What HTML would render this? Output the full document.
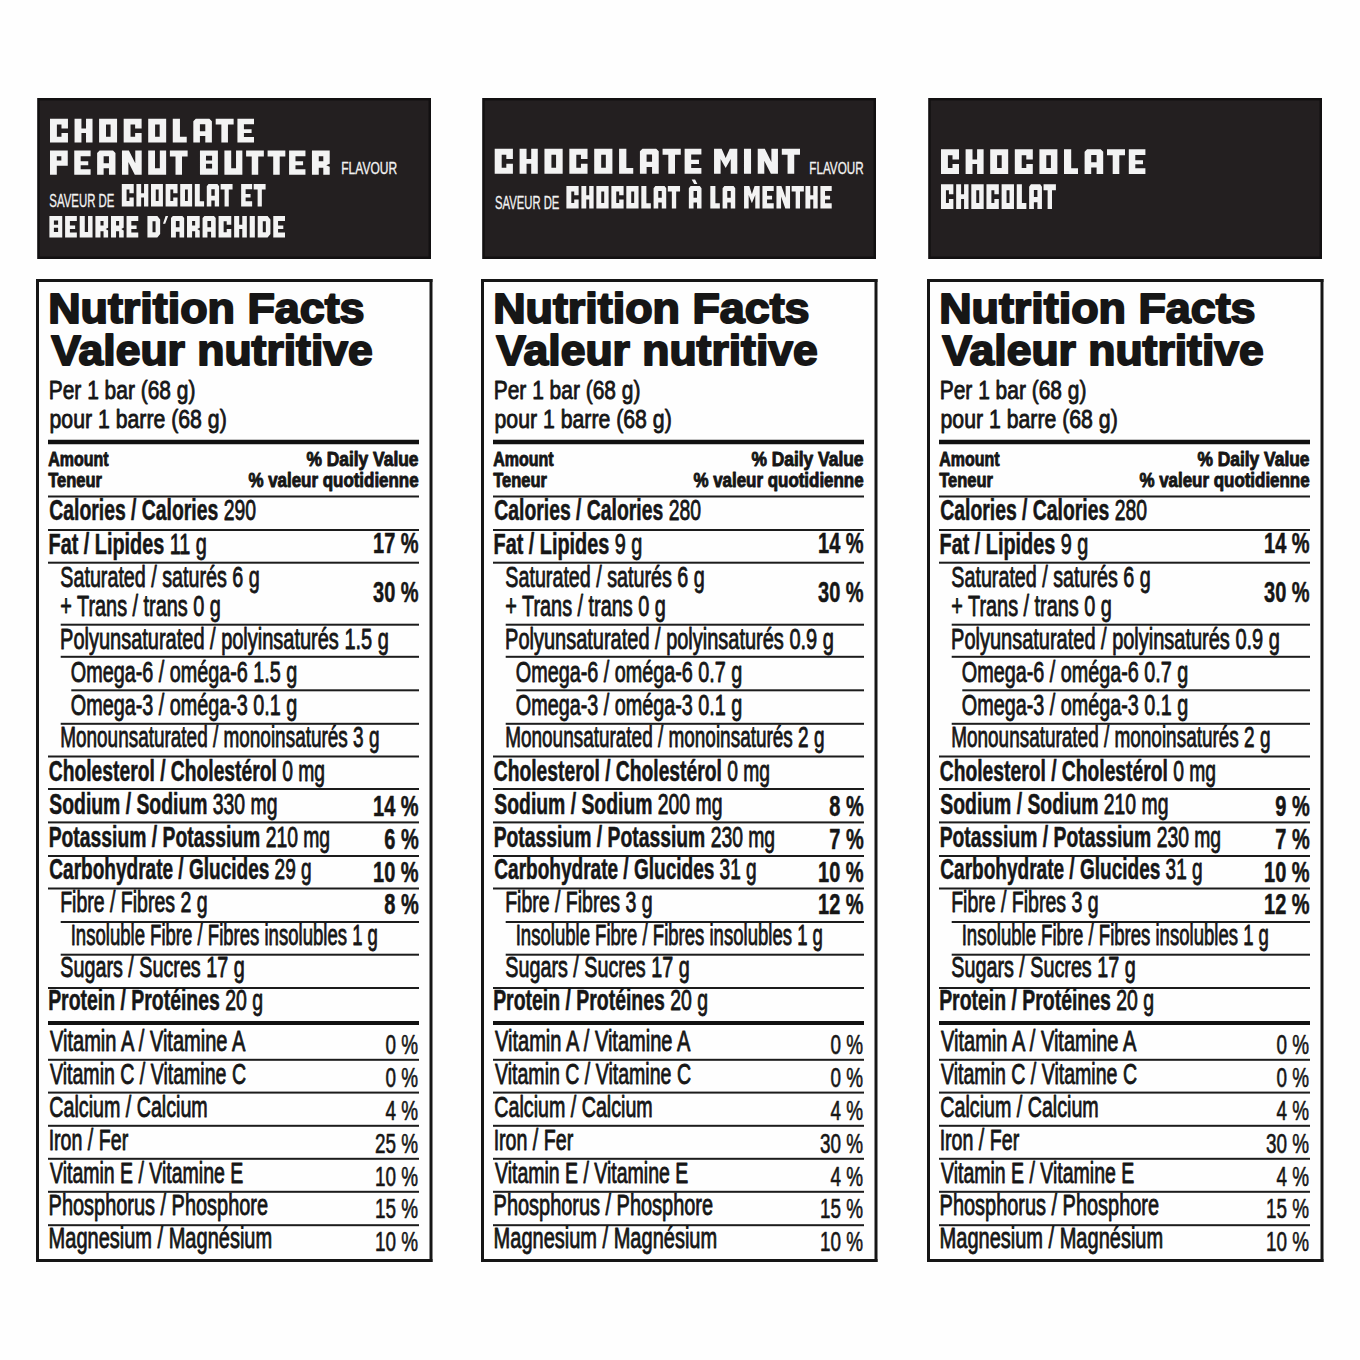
<!DOCTYPE html>
<html><head><meta charset="utf-8"><style>
html,body{margin:0;padding:0;background:#fff;}
svg{display:block;font-family:"Liberation Sans", sans-serif;}
</style></head><body>
<svg width="1360" height="1360" viewBox="0 0 1360 1360">
<rect width="1360" height="1360" fill="#fefefe"/>
<rect x="37.20" y="98.00" width="393.80" height="161.00" fill="#121011"/>
<rect x="39.70" y="100.50" width="388.80" height="156.00" fill="#231f20"/>
<path d="M50.00 118.80 L67.96 118.80 L67.96 128.45 L61.48 128.45 L61.48 124.53 L56.89 124.53 L56.89 136.67 L61.48 136.67 L61.48 132.94 L67.96 132.94 L67.96 142.40 L50.00 142.40Z M74.55 118.80 L81.44 118.80 L81.44 128.45 L86.03 128.45 L86.03 118.80 L92.52 118.80 L92.52 142.40 L86.03 142.40 L86.03 132.94 L81.44 132.94 L81.44 142.40 L74.55 142.40Z M99.10 118.80 L117.07 118.80 L117.07 142.40 L99.10 142.40Z M105.99 124.53 L110.58 124.53 L110.58 136.67 L105.99 136.67Z M123.66 118.80 L141.62 118.80 L141.62 128.45 L135.13 128.45 L135.13 124.53 L130.54 124.53 L130.54 136.67 L135.13 136.67 L135.13 132.94 L141.62 132.94 L141.62 142.40 L123.66 142.40Z M148.21 118.80 L166.17 118.80 L166.17 142.40 L148.21 142.40Z M155.09 124.53 L159.68 124.53 L159.68 136.67 L155.09 136.67Z M172.76 118.80 L179.95 118.80 L179.95 136.86 L186.73 136.86 L186.73 142.40 L172.76 142.40Z M193.32 121.19 L195.81 118.80 L209.39 118.80 L211.88 121.19 L211.88 142.40 L205.30 142.40 L205.30 136.09 L199.91 136.09 L199.91 142.40 L193.32 142.40Z M199.91 124.25 L205.30 124.25 L205.30 131.13 L199.91 131.13Z M215.68 118.80 L233.64 118.80 L233.64 124.53 L227.95 124.53 L227.95 142.40 L221.36 142.40 L221.36 124.53 L215.68 124.53Z M237.43 118.80 L254.00 118.80 L254.00 124.25 L243.92 124.25 L243.92 129.21 L251.60 129.21 L251.60 133.04 L243.92 133.04 L243.92 136.95 L254.00 136.95 L254.00 142.40 L237.43 142.40Z" fill="#f3f3f3" fill-rule="evenodd"/>
<path d="M50.00 150.60 L67.75 150.60 L67.75 165.72 L56.80 165.72 L56.80 174.70 L50.00 174.70Z M56.80 156.16 L61.34 156.16 L61.34 160.55 L56.80 160.55Z M74.25 150.60 L90.62 150.60 L90.62 156.16 L80.66 156.16 L80.66 161.24 L88.25 161.24 L88.25 165.14 L80.66 165.14 L80.66 169.14 L90.62 169.14 L90.62 174.70 L74.25 174.70Z M97.13 153.04 L99.59 150.60 L113.00 150.60 L115.46 153.04 L115.46 174.70 L108.96 174.70 L108.96 168.26 L103.63 168.26 L103.63 174.70 L97.13 174.70Z M103.63 156.16 L108.96 156.16 L108.96 163.19 L103.63 163.19Z M121.97 150.60 L128.87 150.60 L135.28 163.28 L135.28 150.60 L141.69 150.60 L141.69 174.70 L134.79 174.70 L128.38 162.02 L128.38 174.70 L121.97 174.70Z M148.20 150.60 L155.00 150.60 L155.00 168.36 L159.83 168.36 L159.83 150.60 L166.14 150.60 L166.14 174.70 L148.20 174.70Z M169.89 150.60 L187.63 150.60 L187.63 156.45 L182.01 156.45 L182.01 174.70 L175.51 174.70 L175.51 156.45 L169.89 156.45Z M199.96 150.60 L217.90 150.60 L217.90 174.70 L199.96 174.70Z M205.97 155.77 L212.08 155.77 L212.08 160.45 L205.97 160.45Z M205.97 163.87 L212.08 163.87 L212.08 168.55 L205.97 168.55Z M224.41 150.60 L231.21 150.60 L231.21 168.36 L236.04 168.36 L236.04 150.60 L242.35 150.60 L242.35 174.70 L224.41 174.70Z M246.10 150.60 L263.84 150.60 L263.84 156.45 L258.22 156.45 L258.22 174.70 L251.72 174.70 L251.72 156.45 L246.10 156.45Z M267.59 150.60 L285.33 150.60 L285.33 156.45 L279.71 156.45 L279.71 174.70 L273.21 174.70 L273.21 156.45 L267.59 156.45Z M289.08 150.60 L305.45 150.60 L305.45 156.16 L295.49 156.16 L295.49 161.24 L303.08 161.24 L303.08 165.14 L295.49 165.14 L295.49 169.14 L305.45 169.14 L305.45 174.70 L289.08 174.70Z M311.95 150.60 L329.70 150.60 L329.70 163.77 L326.25 165.24 L329.70 166.70 L329.70 174.70 L323.29 174.70 L323.29 167.67 L318.76 167.67 L318.76 174.70 L311.95 174.70Z M318.76 156.16 L323.29 156.16 L323.29 161.33 L318.76 161.33Z" fill="#f3f3f3" fill-rule="evenodd"/>
<path d="M121.80 184.00 L133.73 184.00 L133.73 193.20 L129.43 193.20 L129.43 189.47 L126.57 189.47 L126.57 201.03 L129.43 201.03 L129.43 197.48 L133.73 197.48 L133.73 206.50 L121.80 206.50Z M136.40 184.00 L141.17 184.00 L141.17 193.20 L144.04 193.20 L144.04 184.00 L148.33 184.00 L148.33 206.50 L144.04 206.50 L144.04 197.48 L141.17 197.48 L141.17 206.50 L136.40 206.50Z M151.00 184.00 L162.93 184.00 L162.93 206.50 L151.00 206.50Z M155.78 189.47 L158.64 189.47 L158.64 201.03 L155.78 201.03Z M165.61 184.00 L177.53 184.00 L177.53 193.20 L173.24 193.20 L173.24 189.47 L170.38 189.47 L170.38 201.03 L173.24 201.03 L173.24 197.48 L177.53 197.48 L177.53 206.50 L165.61 206.50Z M180.21 184.00 L192.14 184.00 L192.14 206.50 L180.21 206.50Z M184.98 189.47 L187.84 189.47 L187.84 201.03 L184.98 201.03Z M194.81 184.00 L199.77 184.00 L199.77 201.22 L204.10 201.22 L204.10 206.50 L194.81 206.50Z M206.77 186.28 L208.50 184.00 L217.44 184.00 L219.09 186.28 L219.09 206.50 L214.73 206.50 L214.73 200.49 L211.33 200.49 L211.33 206.50 L206.77 206.50Z M211.33 189.19 L214.73 189.19 L214.73 195.75 L211.33 195.75Z M220.62 184.00 L232.55 184.00 L232.55 189.47 L228.78 189.47 L228.78 206.50 L224.56 206.50 L224.56 189.47 L220.62 189.47Z M241.14 184.00 L252.14 184.00 L252.14 189.19 L245.63 189.19 L245.63 193.93 L250.56 193.93 L250.56 197.57 L245.63 197.57 L245.63 201.31 L252.14 201.31 L252.14 206.50 L241.14 206.50Z M253.67 184.00 L265.60 184.00 L265.60 189.47 L261.83 189.47 L261.83 206.50 L257.61 206.50 L257.61 189.47 L253.67 189.47Z" fill="#f3f3f3" fill-rule="evenodd"/>
<path d="M49.40 215.90 L62.26 215.90 L62.26 237.60 L49.40 237.60Z M53.90 220.56 L58.10 220.56 L58.10 224.77 L53.90 224.77Z M53.90 227.85 L58.10 227.85 L58.10 232.07 L53.90 232.07Z M65.11 215.90 L76.84 215.90 L76.84 220.91 L69.90 220.91 L69.90 225.48 L75.15 225.48 L75.15 228.99 L69.90 228.99 L69.90 232.59 L76.84 232.59 L76.84 237.60 L65.11 237.60Z M79.69 215.90 L84.78 215.90 L84.78 231.89 L88.04 231.89 L88.04 215.90 L92.55 215.90 L92.55 237.60 L79.69 237.60Z M95.40 215.90 L108.12 215.90 L108.12 227.76 L105.66 229.08 L108.12 230.40 L108.12 237.60 L103.54 237.60 L103.54 231.27 L100.49 231.27 L100.49 237.60 L95.40 237.60Z M100.49 220.91 L103.54 220.91 L103.54 225.56 L100.49 225.56Z M110.97 215.90 L123.69 215.90 L123.69 227.76 L121.23 229.08 L123.69 230.40 L123.69 237.60 L119.11 237.60 L119.11 231.27 L116.06 231.27 L116.06 237.60 L110.97 237.60Z M116.06 220.91 L119.11 220.91 L119.11 225.56 L116.06 225.56Z M126.54 215.90 L138.27 215.90 L138.27 220.91 L131.33 220.91 L131.33 225.48 L136.58 225.48 L136.58 228.99 L131.33 228.99 L131.33 232.59 L138.27 232.59 L138.27 237.60 L126.54 237.60Z M147.43 215.90 L157.33 215.90 L160.15 219.41 L160.15 234.09 L157.33 237.60 L147.43 237.60Z M152.52 221.17 L155.57 221.17 L155.57 232.33 L152.52 232.33Z M165.58 215.90 L168.15 215.90 L165.21 223.81 L163.00 223.81Z M171.00 218.10 L172.85 215.90 L182.39 215.90 L184.15 218.10 L184.15 237.60 L179.50 237.60 L179.50 231.80 L175.87 231.80 L175.87 237.60 L171.00 237.60Z M175.87 220.91 L179.50 220.91 L179.50 227.23 L175.87 227.23Z M187.00 215.90 L199.72 215.90 L199.72 227.76 L197.25 229.08 L199.72 230.40 L199.72 237.60 L195.14 237.60 L195.14 231.27 L192.08 231.27 L192.08 237.60 L187.00 237.60Z M192.08 220.91 L195.14 220.91 L195.14 225.56 L192.08 225.56Z M202.56 218.10 L204.41 215.90 L213.95 215.90 L215.71 218.10 L215.71 237.60 L211.06 237.60 L211.06 231.80 L207.43 231.80 L207.43 237.60 L202.56 237.60Z M207.43 220.91 L211.06 220.91 L211.06 227.23 L207.43 227.23Z M218.56 215.90 L231.28 215.90 L231.28 224.77 L226.70 224.77 L226.70 221.17 L223.64 221.17 L223.64 232.33 L226.70 232.33 L226.70 228.90 L231.28 228.90 L231.28 237.60 L218.56 237.60Z M234.13 215.90 L239.21 215.90 L239.21 224.77 L242.27 224.77 L242.27 215.90 L246.84 215.90 L246.84 237.60 L242.27 237.60 L242.27 228.90 L239.21 228.90 L239.21 237.60 L234.13 237.60Z M249.69 215.90 L254.85 215.90 L254.85 237.60 L249.69 237.60Z M257.70 215.90 L267.60 215.90 L270.42 219.41 L270.42 234.09 L267.60 237.60 L257.70 237.60Z M262.79 221.17 L265.84 221.17 L265.84 232.33 L262.79 232.33Z M273.27 215.90 L285.00 215.90 L285.00 220.91 L278.06 220.91 L278.06 225.48 L283.31 225.48 L283.31 228.99 L278.06 228.99 L278.06 232.59 L285.00 232.59 L285.00 237.60 L273.27 237.60Z" fill="#f3f3f3" fill-rule="evenodd"/>
<rect x="36.00" y="279.00" width="396.50" height="3.00" fill="#161616"/>
<rect x="36.00" y="1259.00" width="396.50" height="3.00" fill="#161616"/>
<rect x="36.00" y="279.00" width="3.00" height="983.00" fill="#161616"/>
<rect x="429.50" y="279.00" width="3.00" height="983.00" fill="#161616"/>
<rect x="48.00" y="439.75" width="371.00" height="4.50" fill="#111"/>
<rect x="48.00" y="495.50" width="371.00" height="2.00" fill="#1c1c1c"/>
<rect x="48.00" y="529.00" width="371.00" height="2.00" fill="#1c1c1c"/>
<rect x="48.00" y="561.70" width="371.00" height="2.00" fill="#1c1c1c"/>
<rect x="60.70" y="623.70" width="358.30" height="2.00" fill="#1c1c1c"/>
<rect x="60.70" y="655.80" width="358.30" height="2.00" fill="#1c1c1c"/>
<rect x="71.30" y="689.30" width="347.70" height="2.00" fill="#1c1c1c"/>
<rect x="60.70" y="722.80" width="358.30" height="2.00" fill="#1c1c1c"/>
<rect x="48.00" y="755.50" width="371.00" height="2.00" fill="#1c1c1c"/>
<rect x="48.00" y="788.00" width="371.00" height="2.00" fill="#1c1c1c"/>
<rect x="48.00" y="821.40" width="371.00" height="2.00" fill="#1c1c1c"/>
<rect x="48.00" y="855.00" width="371.00" height="2.00" fill="#1c1c1c"/>
<rect x="48.00" y="887.50" width="371.00" height="2.00" fill="#1c1c1c"/>
<rect x="60.70" y="921.00" width="358.30" height="2.00" fill="#1c1c1c"/>
<rect x="60.70" y="953.70" width="358.30" height="2.00" fill="#1c1c1c"/>
<rect x="48.00" y="987.00" width="371.00" height="2.00" fill="#1c1c1c"/>
<rect x="48.00" y="1021.00" width="371.00" height="4.00" fill="#111"/>
<rect x="48.00" y="1058.80" width="371.00" height="2.00" fill="#1c1c1c"/>
<rect x="48.00" y="1091.60" width="371.00" height="2.00" fill="#1c1c1c"/>
<rect x="48.00" y="1124.80" width="371.00" height="2.00" fill="#1c1c1c"/>
<rect x="48.00" y="1157.80" width="371.00" height="2.00" fill="#1c1c1c"/>
<rect x="48.00" y="1190.80" width="371.00" height="2.00" fill="#1c1c1c"/>
<rect x="48.00" y="1224.20" width="371.00" height="2.00" fill="#1c1c1c"/>
<rect x="482.20" y="98.00" width="393.80" height="161.00" fill="#121011"/>
<rect x="484.70" y="100.50" width="388.80" height="156.00" fill="#231f20"/>
<path d="M494.70 148.80 L512.90 148.80 L512.90 159.02 L506.33 159.02 L506.33 154.87 L501.68 154.87 L501.68 167.73 L506.33 167.73 L506.33 163.78 L512.90 163.78 L512.90 173.80 L494.70 173.80Z M519.58 148.80 L526.55 148.80 L526.55 159.02 L531.21 159.02 L531.21 148.80 L537.78 148.80 L537.78 173.80 L531.21 173.80 L531.21 163.78 L526.55 163.78 L526.55 173.80 L519.58 173.80Z M544.45 148.80 L562.66 148.80 L562.66 173.80 L544.45 173.80Z M551.43 154.87 L556.08 154.87 L556.08 167.73 L551.43 167.73Z M569.33 148.80 L587.53 148.80 L587.53 159.02 L580.96 159.02 L580.96 154.87 L576.31 154.87 L576.31 167.73 L580.96 167.73 L580.96 163.78 L587.53 163.78 L587.53 173.80 L569.33 173.80Z M594.21 148.80 L612.41 148.80 L612.41 173.80 L594.21 173.80Z M601.19 154.87 L605.84 154.87 L605.84 167.73 L601.19 167.73Z M619.09 148.80 L626.37 148.80 L626.37 167.93 L633.24 167.93 L633.24 173.80 L619.09 173.80Z M639.92 151.33 L642.45 148.80 L656.20 148.80 L658.73 151.33 L658.73 173.80 L652.05 173.80 L652.05 167.12 L646.59 167.12 L646.59 173.80 L639.92 173.80Z M646.59 154.57 L652.05 154.57 L652.05 161.86 L646.59 161.86Z M662.57 148.80 L680.77 148.80 L680.77 154.87 L675.01 154.87 L675.01 173.80 L668.33 173.80 L668.33 154.87 L662.57 154.87Z M684.62 148.80 L701.40 148.80 L701.40 154.57 L691.19 154.57 L691.19 159.83 L698.97 159.83 L698.97 163.88 L691.19 163.88 L691.19 168.03 L701.40 168.03 L701.40 173.80 L684.62 173.80Z M714.04 148.80 L721.63 148.80 L725.67 157.91 L729.72 148.80 L737.30 148.80 L737.30 173.80 L730.73 173.80 L730.73 158.92 L725.67 168.03 L720.62 158.92 L720.62 173.80 L714.04 173.80Z M743.98 148.80 L751.05 148.80 L751.05 173.80 L743.98 173.80Z M757.73 148.80 L764.81 148.80 L771.38 161.96 L771.38 148.80 L777.95 148.80 L777.95 173.80 L770.88 173.80 L764.30 160.64 L764.30 173.80 L757.73 173.80Z M781.80 148.80 L800.00 148.80 L800.00 154.87 L794.24 154.87 L794.24 173.80 L787.56 173.80 L787.56 154.87 L781.80 154.87Z" fill="#f3f3f3" fill-rule="evenodd"/>
<path d="M566.40 185.90 L578.64 185.90 L578.64 195.14 L574.23 195.14 L574.23 191.39 L571.30 191.39 L571.30 203.01 L574.23 203.01 L574.23 199.44 L578.64 199.44 L578.64 208.50 L566.40 208.50Z M581.38 185.90 L586.28 185.90 L586.28 195.14 L589.22 195.14 L589.22 185.90 L593.62 185.90 L593.62 208.50 L589.22 208.50 L589.22 199.44 L586.28 199.44 L586.28 208.50 L581.38 208.50Z M596.37 185.90 L608.61 185.90 L608.61 208.50 L596.37 208.50Z M601.26 191.39 L604.20 191.39 L604.20 203.01 L601.26 203.01Z M611.35 185.90 L623.59 185.90 L623.59 195.14 L619.18 195.14 L619.18 191.39 L616.24 191.39 L616.24 203.01 L619.18 203.01 L619.18 199.44 L623.59 199.44 L623.59 208.50 L611.35 208.50Z M626.33 185.90 L638.57 185.90 L638.57 208.50 L626.33 208.50Z M631.23 191.39 L634.17 191.39 L634.17 203.01 L631.23 203.01Z M641.31 185.90 L646.40 185.90 L646.40 203.19 L650.84 203.19 L650.84 208.50 L641.31 208.50Z M653.59 188.19 L655.36 185.90 L664.54 185.90 L666.23 188.19 L666.23 208.50 L661.76 208.50 L661.76 202.46 L658.27 202.46 L658.27 208.50 L653.59 208.50Z M658.27 191.12 L661.76 191.12 L661.76 197.70 L658.27 197.70Z M667.80 185.90 L680.04 185.90 L680.04 191.39 L676.18 191.39 L676.18 208.50 L671.84 208.50 L671.84 191.39 L667.80 191.39Z M688.85 188.19 L690.63 185.90 L699.81 185.90 L701.50 188.19 L701.50 208.50 L697.03 208.50 L697.03 202.46 L693.54 202.46 L693.54 208.50 L688.85 208.50Z M693.54 191.12 L697.03 191.12 L697.03 197.70 L693.54 197.70Z M691.69 179.50 L695.09 179.50 L697.37 184.07 L694.13 184.07Z M710.32 185.90 L715.40 185.90 L715.40 203.19 L719.84 203.19 L719.84 208.50 L710.32 208.50Z M722.59 188.19 L724.36 185.90 L733.54 185.90 L735.23 188.19 L735.23 208.50 L730.76 208.50 L730.76 202.46 L727.27 202.46 L727.27 208.50 L722.59 208.50Z M727.27 191.12 L730.76 191.12 L730.76 197.70 L727.27 197.70Z M744.05 185.90 L749.33 185.90 L751.88 194.13 L754.59 185.90 L759.68 185.90 L759.68 208.50 L755.27 208.50 L755.27 195.05 L751.88 203.28 L748.66 195.05 L748.66 208.50 L744.05 208.50Z M762.42 185.90 L773.71 185.90 L773.71 191.12 L767.03 191.12 L767.03 195.87 L772.08 195.87 L772.08 199.53 L767.03 199.53 L767.03 203.28 L773.71 203.28 L773.71 208.50 L762.42 208.50Z M776.45 185.90 L781.41 185.90 L785.64 197.79 L785.64 185.90 L790.05 185.90 L790.05 208.50 L785.31 208.50 L781.07 196.61 L781.07 208.50 L776.45 208.50Z M791.62 185.90 L803.86 185.90 L803.86 191.39 L799.99 191.39 L799.99 208.50 L795.66 208.50 L795.66 191.39 L791.62 191.39Z M805.43 185.90 L810.32 185.90 L810.32 195.14 L813.26 195.14 L813.26 185.90 L817.67 185.90 L817.67 208.50 L813.26 208.50 L813.26 199.44 L810.32 199.44 L810.32 208.50 L805.43 208.50Z M820.41 185.90 L831.70 185.90 L831.70 191.12 L825.02 191.12 L825.02 195.87 L830.07 195.87 L830.07 199.53 L825.02 199.53 L825.02 203.28 L831.70 203.28 L831.70 208.50 L820.41 208.50Z" fill="#f3f3f3" fill-rule="evenodd"/>
<rect x="481.00" y="279.00" width="396.50" height="3.00" fill="#161616"/>
<rect x="481.00" y="1259.00" width="396.50" height="3.00" fill="#161616"/>
<rect x="481.00" y="279.00" width="3.00" height="983.00" fill="#161616"/>
<rect x="874.50" y="279.00" width="3.00" height="983.00" fill="#161616"/>
<rect x="493.00" y="439.75" width="371.00" height="4.50" fill="#111"/>
<rect x="493.00" y="495.50" width="371.00" height="2.00" fill="#1c1c1c"/>
<rect x="493.00" y="529.00" width="371.00" height="2.00" fill="#1c1c1c"/>
<rect x="493.00" y="561.70" width="371.00" height="2.00" fill="#1c1c1c"/>
<rect x="505.70" y="623.70" width="358.30" height="2.00" fill="#1c1c1c"/>
<rect x="505.70" y="655.80" width="358.30" height="2.00" fill="#1c1c1c"/>
<rect x="516.30" y="689.30" width="347.70" height="2.00" fill="#1c1c1c"/>
<rect x="505.70" y="722.80" width="358.30" height="2.00" fill="#1c1c1c"/>
<rect x="493.00" y="755.50" width="371.00" height="2.00" fill="#1c1c1c"/>
<rect x="493.00" y="788.00" width="371.00" height="2.00" fill="#1c1c1c"/>
<rect x="493.00" y="821.40" width="371.00" height="2.00" fill="#1c1c1c"/>
<rect x="493.00" y="855.00" width="371.00" height="2.00" fill="#1c1c1c"/>
<rect x="493.00" y="887.50" width="371.00" height="2.00" fill="#1c1c1c"/>
<rect x="505.70" y="921.00" width="358.30" height="2.00" fill="#1c1c1c"/>
<rect x="505.70" y="953.70" width="358.30" height="2.00" fill="#1c1c1c"/>
<rect x="493.00" y="987.00" width="371.00" height="2.00" fill="#1c1c1c"/>
<rect x="493.00" y="1021.00" width="371.00" height="4.00" fill="#111"/>
<rect x="493.00" y="1058.80" width="371.00" height="2.00" fill="#1c1c1c"/>
<rect x="493.00" y="1091.60" width="371.00" height="2.00" fill="#1c1c1c"/>
<rect x="493.00" y="1124.80" width="371.00" height="2.00" fill="#1c1c1c"/>
<rect x="493.00" y="1157.80" width="371.00" height="2.00" fill="#1c1c1c"/>
<rect x="493.00" y="1190.80" width="371.00" height="2.00" fill="#1c1c1c"/>
<rect x="493.00" y="1224.20" width="371.00" height="2.00" fill="#1c1c1c"/>
<rect x="928.20" y="98.00" width="393.80" height="161.00" fill="#121011"/>
<rect x="930.70" y="100.50" width="388.80" height="156.00" fill="#231f20"/>
<path d="M941.00 149.30 L959.00 149.30 L959.00 159.40 L952.50 159.40 L952.50 155.30 L947.90 155.30 L947.90 168.00 L952.50 168.00 L952.50 164.10 L959.00 164.10 L959.00 174.00 L941.00 174.00Z M965.60 149.30 L972.50 149.30 L972.50 159.40 L977.10 159.40 L977.10 149.30 L983.60 149.30 L983.60 174.00 L977.10 174.00 L977.10 164.10 L972.50 164.10 L972.50 174.00 L965.60 174.00Z M990.20 149.30 L1008.20 149.30 L1008.20 174.00 L990.20 174.00Z M997.10 155.30 L1001.70 155.30 L1001.70 168.00 L997.10 168.00Z M1014.80 149.30 L1032.80 149.30 L1032.80 159.40 L1026.30 159.40 L1026.30 155.30 L1021.70 155.30 L1021.70 168.00 L1026.30 168.00 L1026.30 164.10 L1032.80 164.10 L1032.80 174.00 L1014.80 174.00Z M1039.40 149.30 L1057.40 149.30 L1057.40 174.00 L1039.40 174.00Z M1046.30 155.30 L1050.90 155.30 L1050.90 168.00 L1046.30 168.00Z M1064.00 149.30 L1071.20 149.30 L1071.20 168.20 L1078.00 168.20 L1078.00 174.00 L1064.00 174.00Z M1084.60 151.80 L1087.10 149.30 L1100.70 149.30 L1103.20 151.80 L1103.20 174.00 L1096.60 174.00 L1096.60 167.40 L1091.20 167.40 L1091.20 174.00 L1084.60 174.00Z M1091.20 155.00 L1096.60 155.00 L1096.60 162.20 L1091.20 162.20Z M1107.00 149.30 L1125.00 149.30 L1125.00 155.30 L1119.30 155.30 L1119.30 174.00 L1112.70 174.00 L1112.70 155.30 L1107.00 155.30Z M1128.80 149.30 L1145.40 149.30 L1145.40 155.00 L1135.30 155.00 L1135.30 160.20 L1143.00 160.20 L1143.00 164.20 L1135.30 164.20 L1135.30 168.30 L1145.40 168.30 L1145.40 174.00 L1128.80 174.00Z" fill="#f3f3f3" fill-rule="evenodd"/>
<path d="M941.00 184.20 L953.38 184.20 L953.38 194.30 L948.92 194.30 L948.92 190.20 L945.95 190.20 L945.95 202.90 L948.92 202.90 L948.92 199.00 L953.38 199.00 L953.38 208.90 L941.00 208.90Z M956.15 184.20 L961.10 184.20 L961.10 194.30 L964.07 194.30 L964.07 184.20 L968.53 184.20 L968.53 208.90 L964.07 208.90 L964.07 199.00 L961.10 199.00 L961.10 208.90 L956.15 208.90Z M971.30 184.20 L983.67 184.20 L983.67 208.90 L971.30 208.90Z M976.25 190.20 L979.22 190.20 L979.22 202.90 L976.25 202.90Z M986.45 184.20 L998.82 184.20 L998.82 194.30 L994.37 194.30 L994.37 190.20 L991.40 190.20 L991.40 202.90 L994.37 202.90 L994.37 199.00 L998.82 199.00 L998.82 208.90 L986.45 208.90Z M1001.60 184.20 L1013.97 184.20 L1013.97 208.90 L1001.60 208.90Z M1006.55 190.20 L1009.52 190.20 L1009.52 202.90 L1006.55 202.90Z M1016.74 184.20 L1021.89 184.20 L1021.89 203.10 L1026.38 203.10 L1026.38 208.90 L1016.74 208.90Z M1029.15 186.70 L1030.95 184.20 L1040.23 184.20 L1041.94 186.70 L1041.94 208.90 L1037.42 208.90 L1037.42 202.30 L1033.89 202.30 L1033.89 208.90 L1029.15 208.90Z M1033.89 189.90 L1037.42 189.90 L1037.42 197.10 L1033.89 197.10Z M1043.52 184.20 L1055.90 184.20 L1055.90 190.20 L1051.99 190.20 L1051.99 208.90 L1047.61 208.90 L1047.61 190.20 L1043.52 190.20Z" fill="#f3f3f3" fill-rule="evenodd"/>
<rect x="927.00" y="279.00" width="396.50" height="3.00" fill="#161616"/>
<rect x="927.00" y="1259.00" width="396.50" height="3.00" fill="#161616"/>
<rect x="927.00" y="279.00" width="3.00" height="983.00" fill="#161616"/>
<rect x="1320.50" y="279.00" width="3.00" height="983.00" fill="#161616"/>
<rect x="939.00" y="439.75" width="371.00" height="4.50" fill="#111"/>
<rect x="939.00" y="495.50" width="371.00" height="2.00" fill="#1c1c1c"/>
<rect x="939.00" y="529.00" width="371.00" height="2.00" fill="#1c1c1c"/>
<rect x="939.00" y="561.70" width="371.00" height="2.00" fill="#1c1c1c"/>
<rect x="951.70" y="623.70" width="358.30" height="2.00" fill="#1c1c1c"/>
<rect x="951.70" y="655.80" width="358.30" height="2.00" fill="#1c1c1c"/>
<rect x="962.30" y="689.30" width="347.70" height="2.00" fill="#1c1c1c"/>
<rect x="951.70" y="722.80" width="358.30" height="2.00" fill="#1c1c1c"/>
<rect x="939.00" y="755.50" width="371.00" height="2.00" fill="#1c1c1c"/>
<rect x="939.00" y="788.00" width="371.00" height="2.00" fill="#1c1c1c"/>
<rect x="939.00" y="821.40" width="371.00" height="2.00" fill="#1c1c1c"/>
<rect x="939.00" y="855.00" width="371.00" height="2.00" fill="#1c1c1c"/>
<rect x="939.00" y="887.50" width="371.00" height="2.00" fill="#1c1c1c"/>
<rect x="951.70" y="921.00" width="358.30" height="2.00" fill="#1c1c1c"/>
<rect x="951.70" y="953.70" width="358.30" height="2.00" fill="#1c1c1c"/>
<rect x="939.00" y="987.00" width="371.00" height="2.00" fill="#1c1c1c"/>
<rect x="939.00" y="1021.00" width="371.00" height="4.00" fill="#111"/>
<rect x="939.00" y="1058.80" width="371.00" height="2.00" fill="#1c1c1c"/>
<rect x="939.00" y="1091.60" width="371.00" height="2.00" fill="#1c1c1c"/>
<rect x="939.00" y="1124.80" width="371.00" height="2.00" fill="#1c1c1c"/>
<rect x="939.00" y="1157.80" width="371.00" height="2.00" fill="#1c1c1c"/>
<rect x="939.00" y="1190.80" width="371.00" height="2.00" fill="#1c1c1c"/>
<rect x="939.00" y="1224.20" width="371.00" height="2.00" fill="#1c1c1c"/>
<text transform="translate(341.25 174.00) scale(0.7521 1)" font-size="16.00" fill="#f3f3f3" stroke="#f3f3f3" stroke-width="0.30" stroke-linejoin="round">FLAVOUR</text>
<text transform="translate(49.37 206.50) scale(0.6337 1)" font-size="18.00" fill="#f3f3f3" stroke="#f3f3f3" stroke-width="0.30" stroke-linejoin="round">SAVEUR DE</text>
<text transform="translate(48.16 322.60) scale(1.0680 1)" font-size="42.00" fill="#161616" stroke="#161616" stroke-width="1.90" stroke-linejoin="round"><tspan font-weight="700">Nutrition Facts</tspan></text>
<text transform="translate(51.36 365.30) scale(1.0595 1)" font-size="42.00" fill="#161616" stroke="#161616" stroke-width="1.90" stroke-linejoin="round"><tspan font-weight="700">Valeur nutritive</tspan></text>
<text transform="translate(48.72 398.60) scale(0.7907 1)" font-size="26.50" fill="#161616" stroke="#161616" stroke-width="0.85" stroke-linejoin="round">Per 1 bar (68 g)</text>
<text transform="translate(49.50 428.00) scale(0.8023 1)" font-size="26.50" fill="#161616" stroke="#161616" stroke-width="0.85" stroke-linejoin="round">pour 1 barre (68 g)</text>
<text transform="translate(48.30 465.80) scale(0.8203 1)" font-size="19.50" fill="#161616" stroke="#161616" stroke-width="0.90" stroke-linejoin="round"><tspan font-weight="700">Amount</tspan></text>
<text transform="translate(48.30 487.00) scale(0.8438 1)" font-size="19.50" fill="#161616" stroke="#161616" stroke-width="0.90" stroke-linejoin="round"><tspan font-weight="700">Teneur</tspan></text>
<text transform="translate(306.40 465.80) scale(0.8921 1)" font-size="19.50" fill="#161616" stroke="#161616" stroke-width="0.90" stroke-linejoin="round"><tspan font-weight="700">% Daily Value</tspan></text>
<text transform="translate(248.40 486.50) scale(0.8684 1)" font-size="19.50" fill="#161616" stroke="#161616" stroke-width="0.90" stroke-linejoin="round"><tspan font-weight="700">% valeur quotidienne</tspan></text>
<text transform="translate(49.32 519.70) scale(0.6776 1)" font-size="28.60" fill="#161616" stroke="#161616" stroke-width="0.85" stroke-linejoin="round"><tspan font-weight="700" stroke-width="0.55">Calories / Calories</tspan> 290</text>
<text transform="translate(48.61 553.60) scale(0.6933 1)" font-size="28.60" fill="#161616" stroke="#161616" stroke-width="0.85" stroke-linejoin="round"><tspan font-weight="700" stroke-width="0.55">Fat / Lipides</tspan> 11 g</text>
<text transform="translate(373.00 553.20) scale(0.7000 1)" font-size="28.60" fill="#161616" stroke="#161616" stroke-width="0.50" stroke-linejoin="round"><tspan font-weight="700">17 %</tspan></text>
<text transform="translate(60.31 586.50) scale(0.6899 1)" font-size="28.60" fill="#161616" stroke="#161616" stroke-width="0.85" stroke-linejoin="round">Saturated / saturés 6 g</text>
<text transform="translate(60.31 616.20) scale(0.6943 1)" font-size="28.60" fill="#161616" stroke="#161616" stroke-width="0.85" stroke-linejoin="round">+ Trans / trans 0 g</text>
<text transform="translate(373.00 602.30) scale(0.7000 1)" font-size="28.60" fill="#161616" stroke="#161616" stroke-width="0.50" stroke-linejoin="round"><tspan font-weight="700">30 %</tspan></text>
<text transform="translate(60.10 648.80) scale(0.6991 1)" font-size="28.60" fill="#161616" stroke="#161616" stroke-width="0.85" stroke-linejoin="round">Polyunsaturated / polyinsaturés 1.5 g</text>
<text transform="translate(70.81 681.50) scale(0.6923 1)" font-size="28.60" fill="#161616" stroke="#161616" stroke-width="0.85" stroke-linejoin="round">Omega-6 / oméga-6 1.5 g</text>
<text transform="translate(70.81 715.00) scale(0.6923 1)" font-size="28.60" fill="#161616" stroke="#161616" stroke-width="0.85" stroke-linejoin="round">Omega-3 / oméga-3 0.1 g</text>
<text transform="translate(60.17 746.80) scale(0.6632 1)" font-size="28.60" fill="#161616" stroke="#161616" stroke-width="0.85" stroke-linejoin="round">Monounsaturated / monoinsaturés 3 g</text>
<text transform="translate(48.83 781.00) scale(0.6738 1)" font-size="28.60" fill="#161616" stroke="#161616" stroke-width="0.85" stroke-linejoin="round"><tspan font-weight="700" stroke-width="0.55">Cholesterol / Cholestérol</tspan> 0 mg</text>
<text transform="translate(49.32 813.50) scale(0.6776 1)" font-size="28.60" fill="#161616" stroke="#161616" stroke-width="0.85" stroke-linejoin="round"><tspan font-weight="700" stroke-width="0.55">Sodium / Sodium</tspan> 330 mg</text>
<text transform="translate(373.00 816.00) scale(0.7000 1)" font-size="28.60" fill="#161616" stroke="#161616" stroke-width="0.50" stroke-linejoin="round"><tspan font-weight="700">14 %</tspan></text>
<text transform="translate(48.65 846.70) scale(0.6760 1)" font-size="28.60" fill="#161616" stroke="#161616" stroke-width="0.85" stroke-linejoin="round"><tspan font-weight="700" stroke-width="0.55">Potassium / Potassium</tspan> 210 mg</text>
<text transform="translate(384.20 849.00) scale(0.7000 1)" font-size="28.60" fill="#161616" stroke="#161616" stroke-width="0.50" stroke-linejoin="round"><tspan font-weight="700">6 %</tspan></text>
<text transform="translate(49.33 878.80) scale(0.6658 1)" font-size="28.60" fill="#161616" stroke="#161616" stroke-width="0.85" stroke-linejoin="round"><tspan font-weight="700" stroke-width="0.55">Carbohydrate / Glucides</tspan> 29 g</text>
<text transform="translate(373.00 881.50) scale(0.7000 1)" font-size="28.60" fill="#161616" stroke="#161616" stroke-width="0.50" stroke-linejoin="round"><tspan font-weight="700">10 %</tspan></text>
<text transform="translate(60.14 911.50) scale(0.6822 1)" font-size="28.60" fill="#161616" stroke="#161616" stroke-width="0.85" stroke-linejoin="round">Fibre / Fibres 2 g</text>
<text transform="translate(384.20 914.00) scale(0.7000 1)" font-size="28.60" fill="#161616" stroke="#161616" stroke-width="0.50" stroke-linejoin="round"><tspan font-weight="700">8 %</tspan></text>
<text transform="translate(70.70 945.00) scale(0.6489 1)" font-size="28.60" fill="#161616" stroke="#161616" stroke-width="0.85" stroke-linejoin="round">Insoluble Fibre / Fibres insolubles 1 g</text>
<text transform="translate(60.31 976.80) scale(0.6906 1)" font-size="28.60" fill="#161616" stroke="#161616" stroke-width="0.85" stroke-linejoin="round">Sugars / Sucres 17 g</text>
<text transform="translate(48.14 1010.00) scale(0.6799 1)" font-size="28.60" fill="#161616" stroke="#161616" stroke-width="0.85" stroke-linejoin="round"><tspan font-weight="700" stroke-width="0.55">Protein / Protéines</tspan> 20 g</text>
<text transform="translate(50.00 1051.20) scale(0.7011 1)" font-size="28.60" fill="#161616" stroke="#161616" stroke-width="0.85" stroke-linejoin="round">Vitamin A / Vitamine A</text>
<text transform="translate(385.60 1054.20) scale(0.7000 1)" font-size="27.00" fill="#161616" stroke="#161616" stroke-width="0.60" stroke-linejoin="round">0 %</text>
<text transform="translate(50.00 1084.40) scale(0.6839 1)" font-size="28.60" fill="#161616" stroke="#161616" stroke-width="0.85" stroke-linejoin="round">Vitamin C / Vitamine C</text>
<text transform="translate(385.60 1087.40) scale(0.7000 1)" font-size="27.00" fill="#161616" stroke="#161616" stroke-width="0.60" stroke-linejoin="round">0 %</text>
<text transform="translate(49.31 1117.00) scale(0.6877 1)" font-size="28.60" fill="#161616" stroke="#161616" stroke-width="0.85" stroke-linejoin="round">Calcium / Calcium</text>
<text transform="translate(385.60 1120.00) scale(0.7000 1)" font-size="27.00" fill="#161616" stroke="#161616" stroke-width="0.60" stroke-linejoin="round">4 %</text>
<text transform="translate(48.63 1150.00) scale(0.6860 1)" font-size="28.60" fill="#161616" stroke="#161616" stroke-width="0.85" stroke-linejoin="round">Iron / Fer</text>
<text transform="translate(375.10 1153.00) scale(0.7000 1)" font-size="27.00" fill="#161616" stroke="#161616" stroke-width="0.60" stroke-linejoin="round">25 %</text>
<text transform="translate(50.00 1182.60) scale(0.6820 1)" font-size="28.60" fill="#161616" stroke="#161616" stroke-width="0.85" stroke-linejoin="round">Vitamin E / Vitamine E</text>
<text transform="translate(375.10 1185.60) scale(0.7000 1)" font-size="27.00" fill="#161616" stroke="#161616" stroke-width="0.60" stroke-linejoin="round">10 %</text>
<text transform="translate(48.61 1215.40) scale(0.6974 1)" font-size="28.60" fill="#161616" stroke="#161616" stroke-width="0.85" stroke-linejoin="round">Phosphorus / Phosphore</text>
<text transform="translate(375.10 1218.40) scale(0.7000 1)" font-size="27.00" fill="#161616" stroke="#161616" stroke-width="0.60" stroke-linejoin="round">15 %</text>
<text transform="translate(48.60 1248.20) scale(0.7000 1)" font-size="28.60" fill="#161616" stroke="#161616" stroke-width="0.85" stroke-linejoin="round">Magnesium / Magnésium</text>
<text transform="translate(375.10 1251.20) scale(0.7000 1)" font-size="27.00" fill="#161616" stroke="#161616" stroke-width="0.60" stroke-linejoin="round">10 %</text>
<text transform="translate(809.27 173.80) scale(0.7315 1)" font-size="16.00" fill="#f3f3f3" stroke="#f3f3f3" stroke-width="0.30" stroke-linejoin="round">FLAVOUR</text>
<text transform="translate(494.97 208.50) scale(0.6277 1)" font-size="18.00" fill="#f3f3f3" stroke="#f3f3f3" stroke-width="0.30" stroke-linejoin="round">SAVEUR DE</text>
<text transform="translate(493.16 322.60) scale(1.0680 1)" font-size="42.00" fill="#161616" stroke="#161616" stroke-width="1.90" stroke-linejoin="round"><tspan font-weight="700">Nutrition Facts</tspan></text>
<text transform="translate(496.36 365.30) scale(1.0595 1)" font-size="42.00" fill="#161616" stroke="#161616" stroke-width="1.90" stroke-linejoin="round"><tspan font-weight="700">Valeur nutritive</tspan></text>
<text transform="translate(493.72 398.60) scale(0.7907 1)" font-size="26.50" fill="#161616" stroke="#161616" stroke-width="0.85" stroke-linejoin="round">Per 1 bar (68 g)</text>
<text transform="translate(494.50 428.00) scale(0.8023 1)" font-size="26.50" fill="#161616" stroke="#161616" stroke-width="0.85" stroke-linejoin="round">pour 1 barre (68 g)</text>
<text transform="translate(493.30 465.80) scale(0.8203 1)" font-size="19.50" fill="#161616" stroke="#161616" stroke-width="0.90" stroke-linejoin="round"><tspan font-weight="700">Amount</tspan></text>
<text transform="translate(493.30 487.00) scale(0.8437 1)" font-size="19.50" fill="#161616" stroke="#161616" stroke-width="0.90" stroke-linejoin="round"><tspan font-weight="700">Teneur</tspan></text>
<text transform="translate(751.40 465.80) scale(0.8921 1)" font-size="19.50" fill="#161616" stroke="#161616" stroke-width="0.90" stroke-linejoin="round"><tspan font-weight="700">% Daily Value</tspan></text>
<text transform="translate(693.40 486.50) scale(0.8684 1)" font-size="19.50" fill="#161616" stroke="#161616" stroke-width="0.90" stroke-linejoin="round"><tspan font-weight="700">% valeur quotidienne</tspan></text>
<text transform="translate(494.32 519.70) scale(0.6776 1)" font-size="28.60" fill="#161616" stroke="#161616" stroke-width="0.85" stroke-linejoin="round"><tspan font-weight="700" stroke-width="0.55">Calories / Calories</tspan> 280</text>
<text transform="translate(493.61 553.60) scale(0.6933 1)" font-size="28.60" fill="#161616" stroke="#161616" stroke-width="0.85" stroke-linejoin="round"><tspan font-weight="700" stroke-width="0.55">Fat / Lipides</tspan> 9 g</text>
<text transform="translate(818.00 553.20) scale(0.7000 1)" font-size="28.60" fill="#161616" stroke="#161616" stroke-width="0.50" stroke-linejoin="round"><tspan font-weight="700">14 %</tspan></text>
<text transform="translate(505.31 586.50) scale(0.6899 1)" font-size="28.60" fill="#161616" stroke="#161616" stroke-width="0.85" stroke-linejoin="round">Saturated / saturés 6 g</text>
<text transform="translate(505.31 616.20) scale(0.6943 1)" font-size="28.60" fill="#161616" stroke="#161616" stroke-width="0.85" stroke-linejoin="round">+ Trans / trans 0 g</text>
<text transform="translate(818.00 602.30) scale(0.7000 1)" font-size="28.60" fill="#161616" stroke="#161616" stroke-width="0.50" stroke-linejoin="round"><tspan font-weight="700">30 %</tspan></text>
<text transform="translate(505.10 648.80) scale(0.6991 1)" font-size="28.60" fill="#161616" stroke="#161616" stroke-width="0.85" stroke-linejoin="round">Polyunsaturated / polyinsaturés 0.9 g</text>
<text transform="translate(515.81 681.50) scale(0.6923 1)" font-size="28.60" fill="#161616" stroke="#161616" stroke-width="0.85" stroke-linejoin="round">Omega-6 / oméga-6 0.7 g</text>
<text transform="translate(515.81 715.00) scale(0.6923 1)" font-size="28.60" fill="#161616" stroke="#161616" stroke-width="0.85" stroke-linejoin="round">Omega-3 / oméga-3 0.1 g</text>
<text transform="translate(505.17 746.80) scale(0.6632 1)" font-size="28.60" fill="#161616" stroke="#161616" stroke-width="0.85" stroke-linejoin="round">Monounsaturated / monoinsaturés 2 g</text>
<text transform="translate(493.83 781.00) scale(0.6738 1)" font-size="28.60" fill="#161616" stroke="#161616" stroke-width="0.85" stroke-linejoin="round"><tspan font-weight="700" stroke-width="0.55">Cholesterol / Cholestérol</tspan> 0 mg</text>
<text transform="translate(494.32 813.50) scale(0.6776 1)" font-size="28.60" fill="#161616" stroke="#161616" stroke-width="0.85" stroke-linejoin="round"><tspan font-weight="700" stroke-width="0.55">Sodium / Sodium</tspan> 200 mg</text>
<text transform="translate(829.20 816.00) scale(0.7000 1)" font-size="28.60" fill="#161616" stroke="#161616" stroke-width="0.50" stroke-linejoin="round"><tspan font-weight="700">8 %</tspan></text>
<text transform="translate(493.65 846.70) scale(0.6760 1)" font-size="28.60" fill="#161616" stroke="#161616" stroke-width="0.85" stroke-linejoin="round"><tspan font-weight="700" stroke-width="0.55">Potassium / Potassium</tspan> 230 mg</text>
<text transform="translate(829.20 849.00) scale(0.7000 1)" font-size="28.60" fill="#161616" stroke="#161616" stroke-width="0.50" stroke-linejoin="round"><tspan font-weight="700">7 %</tspan></text>
<text transform="translate(494.33 878.80) scale(0.6658 1)" font-size="28.60" fill="#161616" stroke="#161616" stroke-width="0.85" stroke-linejoin="round"><tspan font-weight="700" stroke-width="0.55">Carbohydrate / Glucides</tspan> 31 g</text>
<text transform="translate(818.00 881.50) scale(0.7000 1)" font-size="28.60" fill="#161616" stroke="#161616" stroke-width="0.50" stroke-linejoin="round"><tspan font-weight="700">10 %</tspan></text>
<text transform="translate(505.14 911.50) scale(0.6822 1)" font-size="28.60" fill="#161616" stroke="#161616" stroke-width="0.85" stroke-linejoin="round">Fibre / Fibres 3 g</text>
<text transform="translate(818.00 914.00) scale(0.7000 1)" font-size="28.60" fill="#161616" stroke="#161616" stroke-width="0.50" stroke-linejoin="round"><tspan font-weight="700">12 %</tspan></text>
<text transform="translate(515.70 945.00) scale(0.6489 1)" font-size="28.60" fill="#161616" stroke="#161616" stroke-width="0.85" stroke-linejoin="round">Insoluble Fibre / Fibres insolubles 1 g</text>
<text transform="translate(505.31 976.80) scale(0.6906 1)" font-size="28.60" fill="#161616" stroke="#161616" stroke-width="0.85" stroke-linejoin="round">Sugars / Sucres 17 g</text>
<text transform="translate(493.14 1010.00) scale(0.6799 1)" font-size="28.60" fill="#161616" stroke="#161616" stroke-width="0.85" stroke-linejoin="round"><tspan font-weight="700" stroke-width="0.55">Protein / Protéines</tspan> 20 g</text>
<text transform="translate(495.00 1051.20) scale(0.7011 1)" font-size="28.60" fill="#161616" stroke="#161616" stroke-width="0.85" stroke-linejoin="round">Vitamin A / Vitamine A</text>
<text transform="translate(830.60 1054.20) scale(0.7000 1)" font-size="27.00" fill="#161616" stroke="#161616" stroke-width="0.60" stroke-linejoin="round">0 %</text>
<text transform="translate(495.00 1084.40) scale(0.6839 1)" font-size="28.60" fill="#161616" stroke="#161616" stroke-width="0.85" stroke-linejoin="round">Vitamin C / Vitamine C</text>
<text transform="translate(830.60 1087.40) scale(0.7000 1)" font-size="27.00" fill="#161616" stroke="#161616" stroke-width="0.60" stroke-linejoin="round">0 %</text>
<text transform="translate(494.31 1117.00) scale(0.6877 1)" font-size="28.60" fill="#161616" stroke="#161616" stroke-width="0.85" stroke-linejoin="round">Calcium / Calcium</text>
<text transform="translate(830.60 1120.00) scale(0.7000 1)" font-size="27.00" fill="#161616" stroke="#161616" stroke-width="0.60" stroke-linejoin="round">4 %</text>
<text transform="translate(493.63 1150.00) scale(0.6860 1)" font-size="28.60" fill="#161616" stroke="#161616" stroke-width="0.85" stroke-linejoin="round">Iron / Fer</text>
<text transform="translate(820.10 1153.00) scale(0.7000 1)" font-size="27.00" fill="#161616" stroke="#161616" stroke-width="0.60" stroke-linejoin="round">30 %</text>
<text transform="translate(495.00 1182.60) scale(0.6820 1)" font-size="28.60" fill="#161616" stroke="#161616" stroke-width="0.85" stroke-linejoin="round">Vitamin E / Vitamine E</text>
<text transform="translate(830.60 1185.60) scale(0.7000 1)" font-size="27.00" fill="#161616" stroke="#161616" stroke-width="0.60" stroke-linejoin="round">4 %</text>
<text transform="translate(493.61 1215.40) scale(0.6974 1)" font-size="28.60" fill="#161616" stroke="#161616" stroke-width="0.85" stroke-linejoin="round">Phosphorus / Phosphore</text>
<text transform="translate(820.10 1218.40) scale(0.7000 1)" font-size="27.00" fill="#161616" stroke="#161616" stroke-width="0.60" stroke-linejoin="round">15 %</text>
<text transform="translate(493.60 1248.20) scale(0.7000 1)" font-size="28.60" fill="#161616" stroke="#161616" stroke-width="0.85" stroke-linejoin="round">Magnesium / Magnésium</text>
<text transform="translate(820.10 1251.20) scale(0.7000 1)" font-size="27.00" fill="#161616" stroke="#161616" stroke-width="0.60" stroke-linejoin="round">10 %</text>
<text transform="translate(939.16 322.60) scale(1.0680 1)" font-size="42.00" fill="#161616" stroke="#161616" stroke-width="1.90" stroke-linejoin="round"><tspan font-weight="700">Nutrition Facts</tspan></text>
<text transform="translate(942.36 365.30) scale(1.0595 1)" font-size="42.00" fill="#161616" stroke="#161616" stroke-width="1.90" stroke-linejoin="round"><tspan font-weight="700">Valeur nutritive</tspan></text>
<text transform="translate(939.72 398.60) scale(0.7907 1)" font-size="26.50" fill="#161616" stroke="#161616" stroke-width="0.85" stroke-linejoin="round">Per 1 bar (68 g)</text>
<text transform="translate(940.50 428.00) scale(0.8023 1)" font-size="26.50" fill="#161616" stroke="#161616" stroke-width="0.85" stroke-linejoin="round">pour 1 barre (68 g)</text>
<text transform="translate(939.30 465.80) scale(0.8203 1)" font-size="19.50" fill="#161616" stroke="#161616" stroke-width="0.90" stroke-linejoin="round"><tspan font-weight="700">Amount</tspan></text>
<text transform="translate(939.30 487.00) scale(0.8438 1)" font-size="19.50" fill="#161616" stroke="#161616" stroke-width="0.90" stroke-linejoin="round"><tspan font-weight="700">Teneur</tspan></text>
<text transform="translate(1197.40 465.80) scale(0.8921 1)" font-size="19.50" fill="#161616" stroke="#161616" stroke-width="0.90" stroke-linejoin="round"><tspan font-weight="700">% Daily Value</tspan></text>
<text transform="translate(1139.40 486.50) scale(0.8684 1)" font-size="19.50" fill="#161616" stroke="#161616" stroke-width="0.90" stroke-linejoin="round"><tspan font-weight="700">% valeur quotidienne</tspan></text>
<text transform="translate(940.32 519.70) scale(0.6776 1)" font-size="28.60" fill="#161616" stroke="#161616" stroke-width="0.85" stroke-linejoin="round"><tspan font-weight="700" stroke-width="0.55">Calories / Calories</tspan> 280</text>
<text transform="translate(939.61 553.60) scale(0.6933 1)" font-size="28.60" fill="#161616" stroke="#161616" stroke-width="0.85" stroke-linejoin="round"><tspan font-weight="700" stroke-width="0.55">Fat / Lipides</tspan> 9 g</text>
<text transform="translate(1264.00 553.20) scale(0.7000 1)" font-size="28.60" fill="#161616" stroke="#161616" stroke-width="0.50" stroke-linejoin="round"><tspan font-weight="700">14 %</tspan></text>
<text transform="translate(951.31 586.50) scale(0.6899 1)" font-size="28.60" fill="#161616" stroke="#161616" stroke-width="0.85" stroke-linejoin="round">Saturated / saturés 6 g</text>
<text transform="translate(951.31 616.20) scale(0.6943 1)" font-size="28.60" fill="#161616" stroke="#161616" stroke-width="0.85" stroke-linejoin="round">+ Trans / trans 0 g</text>
<text transform="translate(1264.00 602.30) scale(0.7000 1)" font-size="28.60" fill="#161616" stroke="#161616" stroke-width="0.50" stroke-linejoin="round"><tspan font-weight="700">30 %</tspan></text>
<text transform="translate(951.10 648.80) scale(0.6991 1)" font-size="28.60" fill="#161616" stroke="#161616" stroke-width="0.85" stroke-linejoin="round">Polyunsaturated / polyinsaturés 0.9 g</text>
<text transform="translate(961.81 681.50) scale(0.6923 1)" font-size="28.60" fill="#161616" stroke="#161616" stroke-width="0.85" stroke-linejoin="round">Omega-6 / oméga-6 0.7 g</text>
<text transform="translate(961.81 715.00) scale(0.6923 1)" font-size="28.60" fill="#161616" stroke="#161616" stroke-width="0.85" stroke-linejoin="round">Omega-3 / oméga-3 0.1 g</text>
<text transform="translate(951.17 746.80) scale(0.6632 1)" font-size="28.60" fill="#161616" stroke="#161616" stroke-width="0.85" stroke-linejoin="round">Monounsaturated / monoinsaturés 2 g</text>
<text transform="translate(939.83 781.00) scale(0.6738 1)" font-size="28.60" fill="#161616" stroke="#161616" stroke-width="0.85" stroke-linejoin="round"><tspan font-weight="700" stroke-width="0.55">Cholesterol / Cholestérol</tspan> 0 mg</text>
<text transform="translate(940.32 813.50) scale(0.6776 1)" font-size="28.60" fill="#161616" stroke="#161616" stroke-width="0.85" stroke-linejoin="round"><tspan font-weight="700" stroke-width="0.55">Sodium / Sodium</tspan> 210 mg</text>
<text transform="translate(1275.20 816.00) scale(0.7000 1)" font-size="28.60" fill="#161616" stroke="#161616" stroke-width="0.50" stroke-linejoin="round"><tspan font-weight="700">9 %</tspan></text>
<text transform="translate(939.65 846.70) scale(0.6760 1)" font-size="28.60" fill="#161616" stroke="#161616" stroke-width="0.85" stroke-linejoin="round"><tspan font-weight="700" stroke-width="0.55">Potassium / Potassium</tspan> 230 mg</text>
<text transform="translate(1275.20 849.00) scale(0.7000 1)" font-size="28.60" fill="#161616" stroke="#161616" stroke-width="0.50" stroke-linejoin="round"><tspan font-weight="700">7 %</tspan></text>
<text transform="translate(940.33 878.80) scale(0.6658 1)" font-size="28.60" fill="#161616" stroke="#161616" stroke-width="0.85" stroke-linejoin="round"><tspan font-weight="700" stroke-width="0.55">Carbohydrate / Glucides</tspan> 31 g</text>
<text transform="translate(1264.00 881.50) scale(0.7000 1)" font-size="28.60" fill="#161616" stroke="#161616" stroke-width="0.50" stroke-linejoin="round"><tspan font-weight="700">10 %</tspan></text>
<text transform="translate(951.14 911.50) scale(0.6822 1)" font-size="28.60" fill="#161616" stroke="#161616" stroke-width="0.85" stroke-linejoin="round">Fibre / Fibres 3 g</text>
<text transform="translate(1264.00 914.00) scale(0.7000 1)" font-size="28.60" fill="#161616" stroke="#161616" stroke-width="0.50" stroke-linejoin="round"><tspan font-weight="700">12 %</tspan></text>
<text transform="translate(961.70 945.00) scale(0.6489 1)" font-size="28.60" fill="#161616" stroke="#161616" stroke-width="0.85" stroke-linejoin="round">Insoluble Fibre / Fibres insolubles 1 g</text>
<text transform="translate(951.31 976.80) scale(0.6906 1)" font-size="28.60" fill="#161616" stroke="#161616" stroke-width="0.85" stroke-linejoin="round">Sugars / Sucres 17 g</text>
<text transform="translate(939.14 1010.00) scale(0.6799 1)" font-size="28.60" fill="#161616" stroke="#161616" stroke-width="0.85" stroke-linejoin="round"><tspan font-weight="700" stroke-width="0.55">Protein / Protéines</tspan> 20 g</text>
<text transform="translate(941.00 1051.20) scale(0.7011 1)" font-size="28.60" fill="#161616" stroke="#161616" stroke-width="0.85" stroke-linejoin="round">Vitamin A / Vitamine A</text>
<text transform="translate(1276.60 1054.20) scale(0.7000 1)" font-size="27.00" fill="#161616" stroke="#161616" stroke-width="0.60" stroke-linejoin="round">0 %</text>
<text transform="translate(941.00 1084.40) scale(0.6839 1)" font-size="28.60" fill="#161616" stroke="#161616" stroke-width="0.85" stroke-linejoin="round">Vitamin C / Vitamine C</text>
<text transform="translate(1276.60 1087.40) scale(0.7000 1)" font-size="27.00" fill="#161616" stroke="#161616" stroke-width="0.60" stroke-linejoin="round">0 %</text>
<text transform="translate(940.31 1117.00) scale(0.6877 1)" font-size="28.60" fill="#161616" stroke="#161616" stroke-width="0.85" stroke-linejoin="round">Calcium / Calcium</text>
<text transform="translate(1276.60 1120.00) scale(0.7000 1)" font-size="27.00" fill="#161616" stroke="#161616" stroke-width="0.60" stroke-linejoin="round">4 %</text>
<text transform="translate(939.63 1150.00) scale(0.6860 1)" font-size="28.60" fill="#161616" stroke="#161616" stroke-width="0.85" stroke-linejoin="round">Iron / Fer</text>
<text transform="translate(1266.10 1153.00) scale(0.7000 1)" font-size="27.00" fill="#161616" stroke="#161616" stroke-width="0.60" stroke-linejoin="round">30 %</text>
<text transform="translate(941.00 1182.60) scale(0.6820 1)" font-size="28.60" fill="#161616" stroke="#161616" stroke-width="0.85" stroke-linejoin="round">Vitamin E / Vitamine E</text>
<text transform="translate(1276.60 1185.60) scale(0.7000 1)" font-size="27.00" fill="#161616" stroke="#161616" stroke-width="0.60" stroke-linejoin="round">4 %</text>
<text transform="translate(939.61 1215.40) scale(0.6974 1)" font-size="28.60" fill="#161616" stroke="#161616" stroke-width="0.85" stroke-linejoin="round">Phosphorus / Phosphore</text>
<text transform="translate(1266.10 1218.40) scale(0.7000 1)" font-size="27.00" fill="#161616" stroke="#161616" stroke-width="0.60" stroke-linejoin="round">15 %</text>
<text transform="translate(939.60 1248.20) scale(0.7000 1)" font-size="28.60" fill="#161616" stroke="#161616" stroke-width="0.85" stroke-linejoin="round">Magnesium / Magnésium</text>
<text transform="translate(1266.10 1251.20) scale(0.7000 1)" font-size="27.00" fill="#161616" stroke="#161616" stroke-width="0.60" stroke-linejoin="round">10 %</text>
</svg>
</body></html>
